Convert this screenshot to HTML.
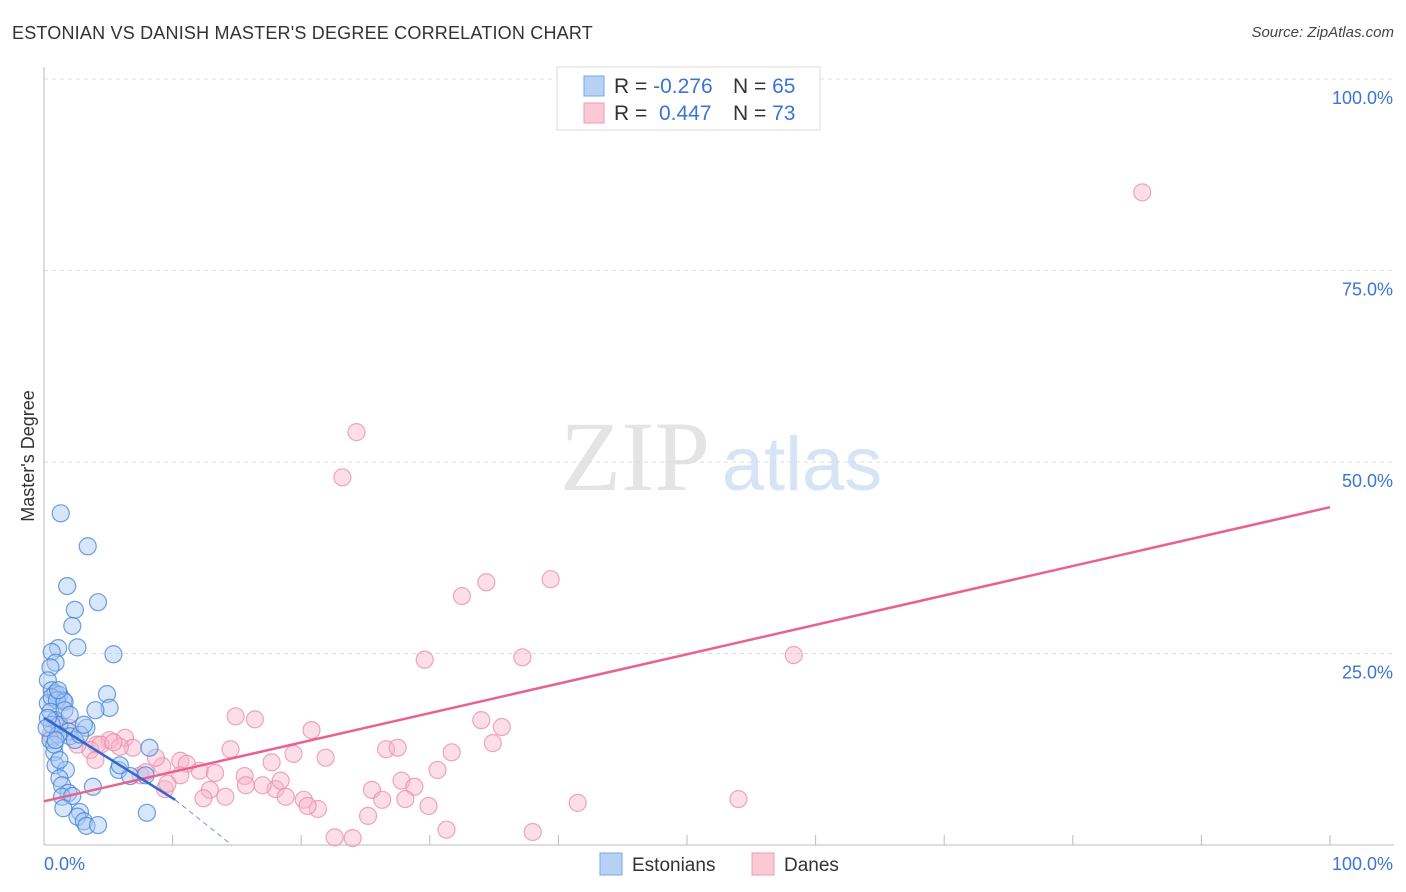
<!DOCTYPE html>
<html><head><meta charset="utf-8">
<style>
body{margin:0;background:#fff;font-family:"Liberation Sans",sans-serif;}
#wrap{position:relative;width:1406px;height:892px;overflow:hidden;}
.t{position:absolute;white-space:nowrap;}
</style></head>
<body>
<div id="wrap">
<div class="t" style="left:12px;top:23px;font-size:18px;color:#333;letter-spacing:0.2px;">ESTONIAN VS DANISH MASTER'S DEGREE CORRELATION CHART</div>
<div class="t" style="right:12px;top:24px;font-size:15px;color:#444;font-style:italic;">Source: ZipAtlas.com</div>
<svg id="svg" width="1406" height="892" style="position:absolute;left:0;top:0"></svg>
</div>
<script>
const estX=[1.3,3.4,1.8,4.2,2.4,2.2,1.1,2.6,5.4,0.6,0.9,0.5,4.9,0.3,0.6,0.9,1.2,1.5,0.3,0.6,1.0,1.6,0.5,0.9,1.2,1.9,3.3,2.0,0.5,2.4,0.8,8.2,5.8,6.7,7.9,0.9,1.7,1.2,1.4,3.8,1.9,1.4,2.2,2.8,8.0,2.6,3.1,3.3,4.2,1.5,0.6,1.1,0.3,0.8,0.2,1.6,2.0,2.8,0.9,1.2,5.1,3.1,5.9,4.0,1.1];
const estY=[43.3,39.0,33.8,31.7,30.7,28.6,25.7,25.8,24.9,25.2,23.8,23.2,19.7,21.5,20.2,19.8,19.6,18.9,18.5,19.3,18.9,18.7,17.4,16.3,15.7,14.8,15.3,14.2,13.7,13.7,12.1,12.7,9.8,9.0,9.1,10.4,9.8,8.7,7.8,7.6,6.8,6.3,6.4,4.3,4.2,3.7,3.1,2.5,2.6,4.8,15.7,14.4,16.6,13.1,15.3,17.6,17.0,14.4,13.7,11.1,17.9,15.7,10.4,17.6,20.2];
const danX=[85.4,24.3,23.2,39.4,34.4,32.5,29.6,37.2,58.3,14.9,16.4,34.0,35.6,20.8,26.6,27.5,31.7,34.9,14.5,17.7,19.4,21.9,10.6,12.1,11.1,13.3,15.6,15.7,18.0,18.4,17.0,27.8,25.5,28.8,30.6,9.2,8.7,7.5,7.9,10.6,12.9,14.1,12.4,18.8,20.2,21.3,20.5,26.3,28.1,29.9,25.2,22.6,24.0,31.3,38.0,41.5,54.0,9.4,9.6,5.1,6.3,4.1,6.9,5.9,3.6,4.0,2.6,0.9,1.2,2.0,0.5,4.4,5.4];
const danY=[85.2,53.9,48.0,34.7,34.3,32.5,24.2,24.5,24.8,16.8,16.4,16.3,15.4,15.0,12.5,12.7,12.1,13.3,12.5,10.8,11.9,11.4,11.0,9.7,10.6,9.4,9.0,7.8,7.3,8.4,7.8,8.4,7.2,7.6,9.8,10.3,11.4,9.1,9.5,9.1,7.2,6.3,6.1,6.3,5.9,4.7,5.1,5.9,6.0,5.1,3.8,1.0,0.9,2.0,1.7,5.5,6.0,7.3,8.0,13.7,14.0,13.1,12.7,12.8,12.4,11.1,13.1,16.3,15.7,15.3,14.4,13.1,13.4];
const estTrendX=[0,10.2,14.6];
const estTrendY=[16.6,5.9,0];
const danTrendX=[0,100];
const danTrendY=[5.7,44.1];
const yTicks=[25,50,75,100];
const yTickLabels=["25.0%","50.0%","75.0%","100.0%"];

const X0=44,X1=1330,Y0=845,Y1=79;
const sx=v=>X0+(X1-X0)*v/100;
const sy=v=>Y0-(Y0-Y1)*v/100;
const svg=document.getElementById('svg');
const NS='http://www.w3.org/2000/svg';
function mk(tag,attrs,parent){const e=document.createElementNS(NS,tag);for(const k in attrs)e.setAttribute(k,attrs[k]);(parent||svg).appendChild(e);return e;}

const wm=mk('text',{x:635,y:490,'font-size':100,'font-family':'Liberation Serif,serif',fill:'#e4e4e4','text-anchor':'middle'});
wm.textContent='ZIP';


const wm2=mk('text',{x:802,y:490,'font-size':76,'font-family':'Liberation Sans,sans-serif',fill:'#d6e4f6','text-anchor':'middle'});
wm2.textContent='atlas';



yTicks.forEach((v,i)=>{
  const g=mk('line',{x1:X0,x2:1394,y1:sy(v),y2:sy(v),stroke:'#dcdcdc','stroke-dasharray':'4,4'});
  
  
  const t=mk('text',{x:1393,y:sy(v)+25,'font-size':18,fill:'#3b74d6','text-anchor':'end','font-family':'Liberation Sans,sans-serif'});
  t.textContent=yTickLabels[i];
  
  
});
const ax=mk('line',{x1:X0,x2:X0,y1:67,y2:Y0,stroke:'#bbb'});


const bx=mk('line',{x1:X0,x2:1394,y1:Y0,y2:Y0,stroke:'#bbb'});


for(let i=1;i<=10;i++){
  const tk=mk('line',{x1:sx(i*10),x2:sx(i*10),y1:Y0-10,y2:Y0,stroke:'#bbb'});
  
  
}

function pts(xs,ys,fill,stroke,name){
  xs.forEach((x,i)=>{
    const c=mk('circle',{cx:sx(x),cy:sy(ys[i]),r:8.5,fill:fill,'fill-opacity':0.45,stroke:stroke,'stroke-opacity':0.75,'stroke-width':1.2});
    
    
  });
}
pts(danX,danY,'#f7b6ca','#e98aa9','dane-point');
pts(estX,estY,'#a8c8f2','#3f80d8','estonian-point');

const dl=mk('line',{x1:sx(danTrendX[0]),y1:sy(danTrendY[0]),x2:sx(danTrendX[1]),y2:sy(danTrendY[1]),stroke:'#e9628e','stroke-width':2.5});


const el1=mk('line',{x1:sx(estTrendX[0]),y1:sy(estTrendY[0]),x2:sx(estTrendX[1]),y2:sy(estTrendY[1]),stroke:'#2f68cc','stroke-width':2.5});


const el2=mk('line',{x1:sx(estTrendX[1]),y1:sy(estTrendY[1]),x2:sx(estTrendX[2]),y2:sy(estTrendY[2]),stroke:'#6f96d8','stroke-width':1,'stroke-dasharray':'5,4'});



const xl0=mk('text',{x:44,y:870,'font-size':18,fill:'#3b74d6','font-family':'Liberation Sans,sans-serif'});
xl0.textContent='0.0%';


const xl1=mk('text',{x:1393,y:870,'font-size':18,fill:'#3b74d6','text-anchor':'end','font-family':'Liberation Sans,sans-serif'});
xl1.textContent='100.0%';


const yt=mk('text',{x:0,y:0,'font-size':18,fill:'#333','text-anchor':'middle','font-family':'Liberation Sans,sans-serif',transform:'translate(34,456) rotate(-90)'});
yt.textContent="Master's Degree";



const lg=mk('rect',{x:557,y:67,width:263,height:63,fill:'#fff',stroke:'#ddd'});


[[-0.276,65,'#b7d1f5','#7aa6e6',93],[0.447,73,'#fbc8d6','#ef9ab5',120]].forEach((r,i)=>{
  const sw=mk('rect',{x:584,y:r[4]-17,width:20,height:20,fill:r[2],stroke:r[3]});
  
  
  const t=mk('text',{x:614,y:r[4],'font-size':21,fill:'#333','font-family':'Liberation Sans,sans-serif'});
  t.innerHTML='R = <tspan fill="#3b74d6">'+(r[0]<0?'-0.276':'\u00a00.447')+'</tspan><tspan x="733">N = </tspan><tspan fill="#3b74d6">'+r[1]+'</tspan>';
  
  
});

[[600,'#b7d1f5','#7aa6e6','Estonians','legend-estonians'],[752,'#fbc8d6','#ef9ab5','Danes','legend-danes']].forEach(l=>{
  const g=mk('g',{});
  
  
  mk('rect',{x:l[0],y:853,width:22,height:22,fill:l[1],stroke:l[2]},g);
  const t=mk('text',{x:l[0]+32,y:871,'font-size':19,fill:'#333','font-family':'Liberation Sans,sans-serif'},g);
  t.textContent=l[3];
});
</script>
</body></html>
